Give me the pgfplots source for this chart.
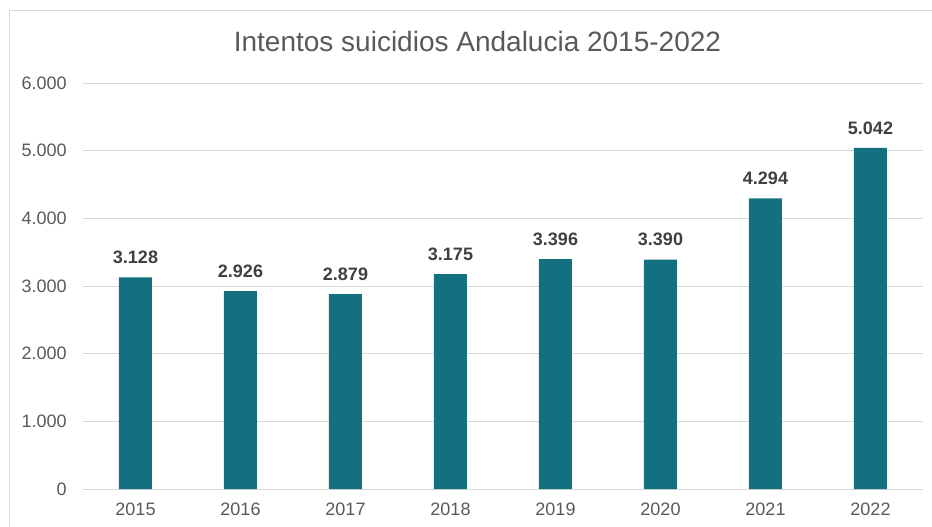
\documentclass[border=0pt]{standalone}
\usepackage{pgfplots}
\pgfplotsset{compat=1.18}
\usepackage{fontspec}
\setmainfont{Liberation Sans}

\definecolor{barteal}{HTML}{13707F}
\definecolor{gridgray}{HTML}{D9D9D9}
\definecolor{tickgray}{HTML}{595959}
\definecolor{labelgray}{HTML}{404040}

\begin{document}
\begin{tikzpicture}
% 1px of the reference = 0.75pt
\path[use as bounding box] (0,0) rectangle (699pt,394.5pt);
\draw[gridgray, line width=0.9pt] (7pt,-2pt) -- (7pt,386.8pt) -- (702pt,386.8pt);
\node[anchor=base, font=\fontsize{21}{25}\selectfont, text=tickgray]
  at (358.1pt,355.7pt) {Intentos suicidios Andalucia 2015-2022};

\begin{axis}[
    at={(62.25pt,27.75pt)}, anchor=south west,
    scale only axis, width=630pt, height=304.5pt,
    xmin=-0.5, xmax=7.5, ymin=0, ymax=6000,
    xtick={0,...,7},
    xticklabels={2015,2016,2017,2018,2019,2020,2021,2022},
    ytick={0,1000,...,6000},
    axis line style={draw=none},
    major tick length=0pt,
    ymajorgrids,
    grid style={gridgray, line width=0.75pt},
    tick label style={font=\fontsize{13.5}{16}\selectfont, text=tickgray, inner sep=0pt},
    yticklabel style={xshift=-12pt},
    xticklabel style={yshift=-10.5pt},
    /pgf/number format/1000 sep={.},
    /pgf/number format/assume math mode=true,
    ybar, bar width=24.75pt,
    nodes near coords,
    nodes near coords style={font=\bfseries\fontsize{13.5}{16}\selectfont,
        text=labelgray, inner sep=0pt, anchor=south, yshift=10pt},
]
\addplot[fill=barteal, draw=none] coordinates {
    (0,3128) (1,2926) (2,2879) (3,3175) (4,3396) (5,3390) (6,4294) (7,5042)
};
\end{axis}
\end{tikzpicture}
\end{document}
